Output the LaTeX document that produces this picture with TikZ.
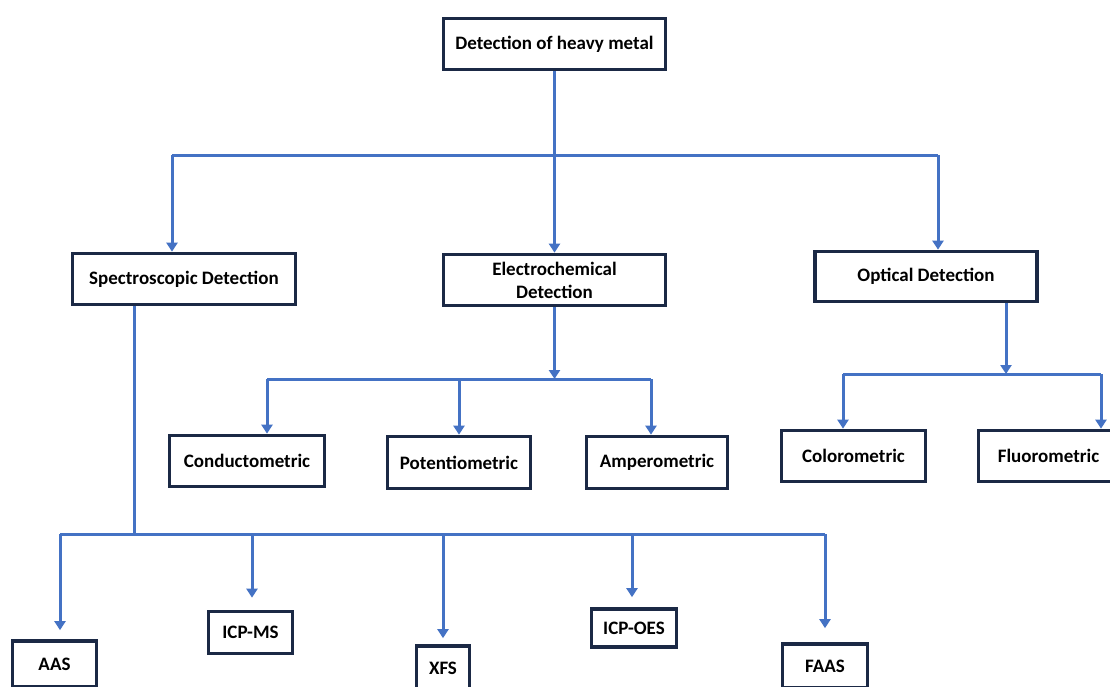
\documentclass[tikz,border=0pt]{standalone}
\usepackage{fontspec}
\setmainfont{Carlito}
\usetikzlibrary{arrows.meta}
\definecolor{conn}{HTML}{4472C4}
\definecolor{frame}{HTML}{1B2945}
\tikzset{
  box/.style={draw=frame, line width=3.7pt, fill=white, inner sep=0pt, align=center,
    font=\fontsize{19}{23}\selectfont\bfseries, text=black},
  link/.style={draw=conn, line width=3pt},
  arr/.style={link, -{Triangle[length=9pt,width=11pt]}},
}
\begin{document}
\begin{tikzpicture}[x=1pt,y=1pt]
\useasboundingbox[fill=white] (0,0) rectangle (1110,-686);
% nodes
\node[box, minimum width=222, minimum height=51] (top) at (554.5,-44) {Detection of heavy metal};
\node[box, minimum width=223, minimum height=51] (spec) at (184,-279) {Spectroscopic Detection};
\node[box, minimum width=222, minimum height=51] (elec) at (554.5,-280) {Electrochemical\\Detection};
\node[box, minimum width=222, minimum height=50] (opt) at (926,-276.5) {Optical Detection};
\node[box, minimum width=155, minimum height=51] (cond) at (247,-461) {Conductometric};
\node[box, minimum width=143, minimum height=52] (pot) at (459,-462.5) {Potentiometric};
\node[box, minimum width=141, minimum height=52] (amp) at (657,-462.5) {Amperometric};
\node[box, minimum width=144, minimum height=51] (colo) at (853.5,-456) {Colorometric};
\node[box, minimum width=140, minimum height=51] (fluo) at (1048.5,-456) {Fluorometric};
\node[box, minimum width=84, minimum height=46] (aas) at (54.5,-664) {AAS};
\node[box, minimum width=84, minimum height=42] (icpms) at (250.5,-632.5) {ICP-MS};
\node[box, minimum width=53, minimum height=44] (xfs) at (443,-668) {XFS};
\node[box, minimum width=85, minimum height=38] (icpoes) at (634,-628) {ICP-OES};
\node[box, minimum width=85, minimum height=44] (faas) at (825,-666) {FAAS};
% junction coordinates
\coordinate (j0) at (554.5,-155);
\coordinate (jl) at (172,-155);
\coordinate (jr) at (938,-155);
\coordinate (s0) at (134,-534);
\coordinate (s1) at (60,-534);
\coordinate (s2) at (252,-534);
\coordinate (s3) at (443,-534);
\coordinate (s4) at (632,-534);
\coordinate (s5) at (825,-534);
\coordinate (e0) at (554.5,-379);
\coordinate (e1) at (267,-379);
\coordinate (e2) at (459,-379);
\coordinate (e3) at (651,-379);
\coordinate (o0) at (1006,-374);
\coordinate (o1) at (843,-374);
\coordinate (o2) at (1101,-374);
% top level
\draw[link] (top.south) -- (j0);
\draw[link] (jl) -- (jr);
\draw[arr] (jl) -- (jl |- spec.north);
\draw[arr] (j0) -- (elec.north);
\draw[arr] (jr) -- (jr |- opt.north);
% spectroscopic
\draw[link] (s0 |- spec.south) -- (s0);
\draw[link] (s1) -- (s5);
\draw[arr, shorten >=9pt] (s1) -- (s1 |- aas.north);
\draw[arr, shorten >=12pt] (s2) -- (s2 |- icpms.north);
\draw[arr, shorten >=6pt] (s3) -- (s3 |- xfs.north);
\draw[arr, shorten >=10pt] (s4) -- (s4 |- icpoes.north);
\draw[arr, shorten >=14pt] (s5) -- (s5 |- faas.north);
% electrochemical
\draw[arr] (elec.south) -- (e0);
\draw[link] (e1) -- (e3);
\draw[arr] (e1) -- (e1 |- cond.north);
\draw[arr] (e2) -- (e2 |- pot.north);
\draw[arr] (e3) -- (e3 |- amp.north);
% optical
\draw[arr] (o0 |- opt.south) -- (o0);
\draw[link] (o1) -- (o2);
\draw[arr] (o1) -- (o1 |- colo.north);
\draw[arr] (o2) -- (o2 |- fluo.north);
\end{tikzpicture}
\end{document}
